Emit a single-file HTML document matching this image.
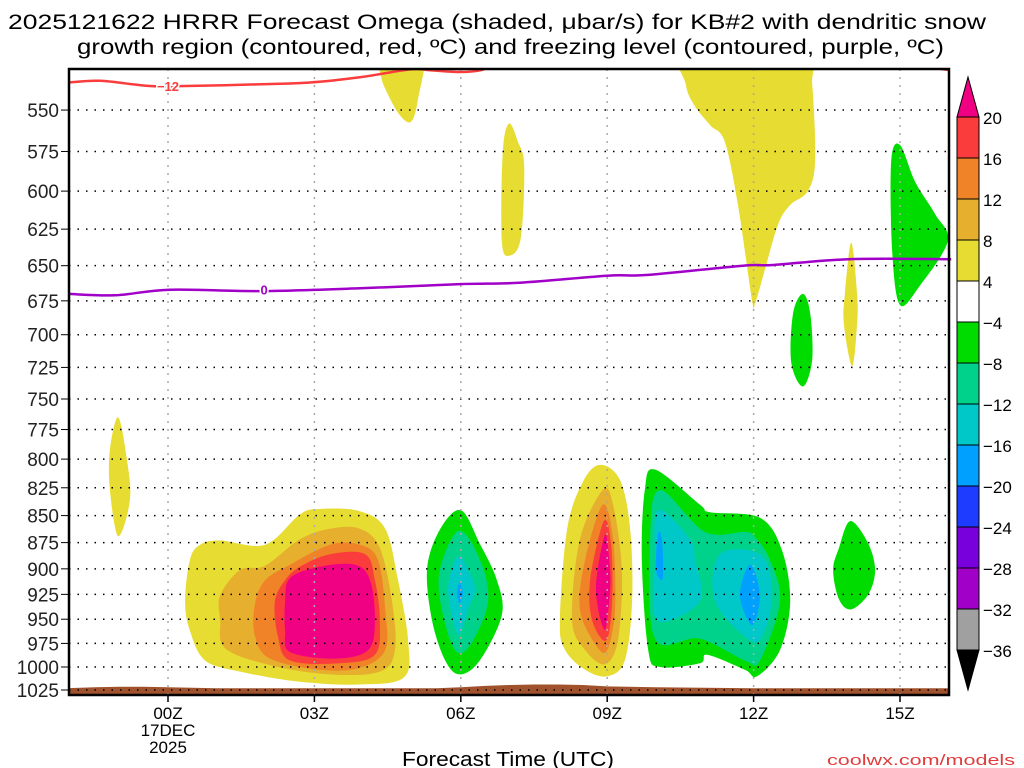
<!DOCTYPE html>
<html><head><meta charset="utf-8"><style>
html,body{margin:0;padding:0;background:#fff;}
svg{display:block;font-family:"Liberation Sans",sans-serif;}
</style></head><body>
<svg id="chart" width="1024" height="768" viewBox="0 0 1024 768" xmlns="http://www.w3.org/2000/svg">
<defs><clipPath id="plotclip"><rect x="69" y="69" width="880" height="626"/></clipPath></defs>
<rect x="0" y="0" width="1024" height="768" fill="#fff"/>
<text x="8" y="29" font-size="21" textLength="978" lengthAdjust="spacingAndGlyphs" fill="#000">2025121622 HRRR Forecast Omega (shaded, μbar/s) for KB#2 with dendritic snow</text>
<text x="77" y="54" font-size="21" textLength="867" lengthAdjust="spacingAndGlyphs" fill="#000">growth region (contoured, red, ºC) and freezing level (contoured, purple, ºC)</text>
<g id="plot" clip-path="url(#plotclip)"></g>
<g id="grid"></g>
<g id="axes"></g>
<g id="cbar"></g>
<text x="508" y="766" font-size="20" text-anchor="middle" textLength="212" lengthAdjust="spacingAndGlyphs" fill="#000">Forecast Time (UTC)</text>
<text x="1015" y="765" font-size="15" text-anchor="end" textLength="188" lengthAdjust="spacingAndGlyphs" fill="#e03c3c">coolwx.com/models</text>
</svg>
<script>
const NS="http://www.w3.org/2000/svg";
const hourTicks=[0,3,6,9,12,15];
const hourLabels=["00Z","03Z","06Z","09Z","12Z","15Z"];
const presTicks=[550,575,600,625,650,675,700,725,750,775,800,825,850,875,900,925,950,975,1000,1025];
const cbarLevels=["20","16","12","8","4","−4","−8","−12","−16","−20","−24","−28","−32","−36"];
const cbarColors=["#fa3c3c","#f08228","#e6af2d","#e6dc32","#ffffff","#00dc00","#00d28c","#00c8c8","#00a0ff","#1e3cff","#7800dc","#a000c8","#a0a0a0"];
const C={y4:"#e6dc32",t8:"#e6af2d",o12:"#f08228",r16:"#fa3c3c",m20:"#f00082",g4:"#00dc00",g8:"#00d28c",c12:"#00c8c8",b16:"#00a0ff"};
const blobA_4=[[0.35,932],[0.45,891],[0.66,877],[1.07,873],[1.99,877],[2.70,849],[3.11,844],[3.93,846],[4.45,862],[4.71,910],[4.92,972],[4.84,1011],[3.93,1019],[2.70,1016],[1.48,1005],[0.76,993],[0.45,962]];
const blobA_8=[[1.07,926],[1.48,901],[1.99,897],[2.70,872],[3.32,862],[3.93,862],[4.34,880],[4.59,932],[4.65,982],[4.34,1005],[3.32,1008],[2.09,998],[1.17,980],[1.07,951]];
const blobA_12=[[1.78,935],[1.99,911],[2.50,896],[3.32,877],[3.93,877],[4.30,891],[4.45,940],[4.45,982],[3.93,1001],[3.11,1003],[2.09,991],[1.78,967]];
const blobA_16=[[2.19,932],[2.40,911],[2.70,898],[3.32,886],[4.04,886],[4.24,911],[4.34,951],[4.24,987],[3.52,996],[2.50,993],[2.25,967]];
const blobA_20=[[2.40,932],[2.50,909],[3.11,898],[3.83,896],[4.14,911],[4.24,951],[4.10,982],[3.42,991],[2.50,984],[2.40,962]];
const blobB_4=[[6.0,845],[5.57,863],[5.31,900],[5.41,951],[5.68,993],[5.98,1008],[6.39,993],[6.84,946],[6.74,911],[6.39,876]];
const blobB_8=[[5.96,864],[5.57,901],[5.61,940],[5.88,982],[6.19,977],[6.56,932],[6.39,891]];
const blobB_12=[[5.94,888],[5.74,920],[5.94,966],[6.15,940],[6.29,920],[6.15,901]];
const blobB_16=[[5.98,913],[5.92,924],[5.98,934],[6.04,924]];
const blobC_4=[[8.85,805],[8.50,820],[8.18,862],[8.03,951],[8.14,982],[8.55,1003],[9.0,1010],[9.36,993],[9.51,932],[9.47,862],[9.26,818]];
const blobC_8=[[8.91,827],[8.44,872],[8.28,951],[8.55,982],[8.95,997],[9.22,972],[9.30,901],[9.12,840]];
const blobC_12=[[8.91,840],[8.55,891],[8.44,940],[8.77,977],[9.0,982],[9.16,940],[9.12,872]];
const blobC_16=[[8.93,855],[8.65,911],[8.69,951],[8.98,972],[9.10,932],[9.08,877]];
const blobC_20=[[8.95,868],[8.77,920],[8.95,961],[9.06,920],[9.04,891]];
const blobD_4=[[9.98,809],[9.77,827],[9.71,891],[9.84,982],[10.08,1000],[10.90,996],[11.05,987],[11.82,1003],[12.07,1010],[12.54,982],[12.75,932],[12.58,882],[12.13,852],[11.11,847],[10.90,840]];
const blobD_8=[[10.08,827],[9.88,872],[9.98,970],[10.90,970],[11.82,993],[12.13,993],[12.54,932],[12.33,891],[12.03,870],[11.82,865],[11.0,865]];
const blobD_12a=[[10.04,845],[9.98,891],[10.02,951],[10.90,932],[10.80,891],[10.70,872]];
const blobD_12b=[[11.31,886],[11.21,932],[11.93,972],[12.23,962],[12.38,920],[12.13,886]];
const blobD_16a=[[10.04,867],[10.0,901],[10.14,909],[10.12,872]];
const blobD_16b=[[11.93,896],[11.72,926],[11.97,956],[12.13,926]];
const blobE_4=[[13.98,855],[13.75,880],[13.63,901],[13.75,930],[14.0,940],[14.35,925],[14.49,901],[14.34,875]];
const upY1=[[4.34,515],[5.22,515],[5.12,544],[4.98,557],[4.75,553],[4.51,541],[4.36,530]];
const upY2=[[6.99,558],[6.86,575],[6.84,633],[7.0,643],[7.23,631],[7.30,584],[7.17,569]];
const upY3=[[10.61,515],[13.05,515],[13.20,535],[13.26,581],[13.11,600],[12.75,609],[12.50,622],[12.23,653],[12.03,677],[11.97,675],[11.68,609],[11.41,569],[11.11,559],[10.78,547],[10.61,535]];
const upG1=[[13.01,670],[12.81,684],[12.77,721],[13.01,740],[13.20,719],[13.16,684]];
const upY4=[[14.0,634],[13.87,670],[13.85,692],[14.02,724],[14.12,692],[14.12,670]];
const upG2=[[15.0,571],[14.82,581],[14.84,640],[15.0,678],[15.41,664],[15.98,633],[15.72,615],[15.31,594]];
const lowY=[[-1.02,765],[-1.19,792],[-1.19,827],[-1.02,869],[-0.78,836],[-0.84,801]];
const redLine=[[-2.05,534],[-1.39,533],[-0.37,536],[0.35,536],[1.89,535],[2.91,534],[3.93,531],[4.96,526.5],[5.37,527],[5.98,528],[6.4,527],[6.8,523],[7.5,519],[15.0,519],[15.5,524],[15.8,526],[16.05,527]];
const purpleLine=[[-2.05,670],[-1.09,671],[0.04,667],[1.89,668],[3.93,666],[5.98,663],[7.21,662],[9.0,657],[9.84,656.5],[11.78,650],[12.4,649.5],[13.94,645.5],[16.05,645.5]];
const groundHours=[-2.05,-1.5,-1,-0.5,0,1,2,3,4,5,5.5,6,6.5,7,7.5,8,8.5,9,10,12,14,16.05];
const groundPres=[1023,1022,1021.5,1021.5,1022,1023,1023,1023,1023,1023,1023,1022,1020.5,1019.5,1019,1019,1019.5,1021,1022,1023,1023,1023];

const xS=h=>168+h*48.8;
const yS=p=>690-931.6*Math.log(1025/p);
function mk(tag,attrs,parent){const e=document.createElementNS(NS,tag);for(const k in attrs)e.setAttribute(k,attrs[k]);parent.appendChild(e);return e;}
function smoothClosed(pts){
  const P=pts.map(d=>[xS(d[0]),yS(d[1])]);const n=P.length;let s=`M${P[0][0].toFixed(1)},${P[0][1].toFixed(1)}`;
  for(let i=0;i<n;i++){const p0=P[(i-1+n)%n],p1=P[i],p2=P[(i+1)%n],p3=P[(i+2)%n];
    const c1=[p1[0]+(p2[0]-p0[0])/6,p1[1]+(p2[1]-p0[1])/6],c2=[p2[0]-(p3[0]-p1[0])/6,p2[1]-(p3[1]-p1[1])/6];
    s+=`C${c1[0].toFixed(1)},${c1[1].toFixed(1)} ${c2[0].toFixed(1)},${c2[1].toFixed(1)} ${p2[0].toFixed(1)},${p2[1].toFixed(1)}`;}
  return s+"Z";}
function smoothOpen(pts){
  const P=pts.map(d=>[xS(d[0]),yS(d[1])]);const n=P.length;let s=`M${P[0][0].toFixed(1)},${P[0][1].toFixed(1)}`;
  for(let i=0;i<n-1;i++){const p0=P[Math.max(i-1,0)],p1=P[i],p2=P[i+1],p3=P[Math.min(i+2,n-1)];
    const c1=[p1[0]+(p2[0]-p0[0])/6,p1[1]+(p2[1]-p0[1])/6],c2=[p2[0]-(p3[0]-p1[0])/6,p2[1]-(p3[1]-p1[1])/6];
    s+=`C${c1[0].toFixed(1)},${c1[1].toFixed(1)} ${c2[0].toFixed(1)},${c2[1].toFixed(1)} ${p2[0].toFixed(1)},${p2[1].toFixed(1)}`;}
  return s;}
const plot=document.getElementById('plot');
const regions=[
 ["omega-region-a-4",blobA_4,C.y4],["omega-region-a-8",blobA_8,C.t8],["omega-region-a-12",blobA_12,C.o12],["omega-region-a-16",blobA_16,C.r16],["omega-region-a-20",blobA_20,C.m20],
 ["omega-region-b-neg4",blobB_4,C.g4],["omega-region-b-neg8",blobB_8,C.g8],["omega-region-b-neg12",blobB_12,C.c12],["omega-region-b-neg16",blobB_16,C.b16],
 ["omega-region-c-4",blobC_4,C.y4],["omega-region-c-8",blobC_8,C.t8],["omega-region-c-12",blobC_12,C.o12],["omega-region-c-16",blobC_16,C.r16],["omega-region-c-20",blobC_20,C.m20],
 ["omega-region-d-neg4",blobD_4,C.g4],["omega-region-d-neg8",blobD_8,C.g8],["omega-region-d-neg12a",blobD_12a,C.c12],["omega-region-d-neg12b",blobD_12b,C.c12],["omega-region-d-neg16a",blobD_16a,C.b16],["omega-region-d-neg16b",blobD_16b,C.b16],
 ["omega-region-e-neg4",blobE_4,C.g4],["omega-upper-1",upY1,C.y4],["omega-upper-2",upY2,C.y4],["omega-upper-3",upY3,C.y4],["omega-upper-4",upG1,C.g4],["omega-upper-5",upY4,C.y4],["omega-upper-6",upG2,C.g4],["omega-low-left",lowY,C.y4]];
regions.forEach(r=>{const e=mk('path',{d:smoothClosed(r[1]),fill:r[2]},plot);
  
  });
let gd=`M${xS(groundHours[0])},700`;groundHours.forEach((h,i)=>{gd+=`L${xS(h).toFixed(1)},${yS(groundPres[i]).toFixed(1)}`;});gd+=`L${xS(groundHours[groundHours.length-1])},700Z`;
const g=mk('path',{d:gd,fill:"#a0522d"},plot);


const grid=document.getElementById('grid');
presTicks.forEach(p=>{const y=yS(p);const l=mk('line',{x1:69,x2:949,y1:y,y2:y,stroke:"#000","stroke-width":1.5,"stroke-dasharray":"1.5 7","clip-path":"url(#plotclip)"},grid);
  
  });
hourTicks.forEach(h=>{const x=xS(h);const l=mk('line',{x1:x,x2:x,y1:69,y2:695,stroke:"#aaa","stroke-width":1.5,"stroke-dasharray":"2 6"},grid);
  
  });
const rl=mk('path',{d:smoothOpen(redLine),fill:"none",stroke:"#fa3c3c","stroke-width":2.5,"clip-path":"url(#plotclip)"},grid);


const pl=mk('path',{d:smoothOpen(purpleLine),fill:"none",stroke:"#a000c8","stroke-width":2.5},grid);


const rlb=mk('text',{x:xS(0),y:yS(536)+5,"font-size":13,"font-weight":"bold","text-anchor":"middle",fill:"#fa3c3c",stroke:"#fff","stroke-width":3,"paint-order":"stroke"},grid);rlb.textContent="−12";


const plb=mk('text',{x:xS(1.97),y:yS(667)+5,"font-size":13,"font-weight":"bold","text-anchor":"middle",fill:"#a000c8",stroke:"#fff","stroke-width":3,"paint-order":"stroke"},grid);plb.textContent="0";


const ax=document.getElementById('axes');
const fr=mk('rect',{x:69,y:69,width:880,height:626,fill:"none",stroke:"#000","stroke-width":2.5},ax);


presTicks.forEach(p=>{const y=yS(p);mk('line',{x1:61,x2:69,y1:y,y2:y,stroke:"#000","stroke-width":1},ax);
  const t=mk('text',{x:59,y:y+7,"font-size":19,"text-anchor":"end",fill:"#222"},ax);t.textContent=p;
  
  });
hourTicks.forEach((h,i)=>{const x=xS(h);mk('line',{x1:x,x2:x,y1:695,y2:702,stroke:"#000","stroke-width":1.5},ax);
  const t=mk('text',{x:x,y:719,"font-size":17,"text-anchor":"middle",fill:"#000"},ax);t.textContent=hourLabels[i];
  
  });
const d1=mk('text',{x:xS(0),y:736,"font-size":17,"text-anchor":"middle",fill:"#000"},ax);d1.textContent="17DEC";


const d2=mk('text',{x:xS(0),y:753,"font-size":17,"text-anchor":"middle",fill:"#000"},ax);d2.textContent="2025";


const cb=document.getElementById('cbar');const cx=957,cw=22,cTop=117,step=41;
const tri1=mk('path',{d:`M${cx},${cTop}L${cx+cw/2},77L${cx+cw},${cTop}Z`,fill:"#f00082",stroke:"#000","stroke-width":1},cb);


cbarColors.forEach((c,i)=>{const r=mk('rect',{x:cx,y:cTop+i*step,width:cw,height:step,fill:c,stroke:"#000","stroke-width":1},cb);
  
  });
const cBot=cTop+cbarColors.length*step;
const tri2=mk('path',{d:`M${cx},${cBot}L${cx+cw/2},${cBot+40}L${cx+cw},${cBot}Z`,fill:"#000",stroke:"#000","stroke-width":1},cb);


cbarLevels.forEach((l,i)=>{const t=mk('text',{x:983,y:cTop+i*step+7,"font-size":17,fill:"#000"},cb);t.textContent=l;
  
  });
</script>
</body></html>
